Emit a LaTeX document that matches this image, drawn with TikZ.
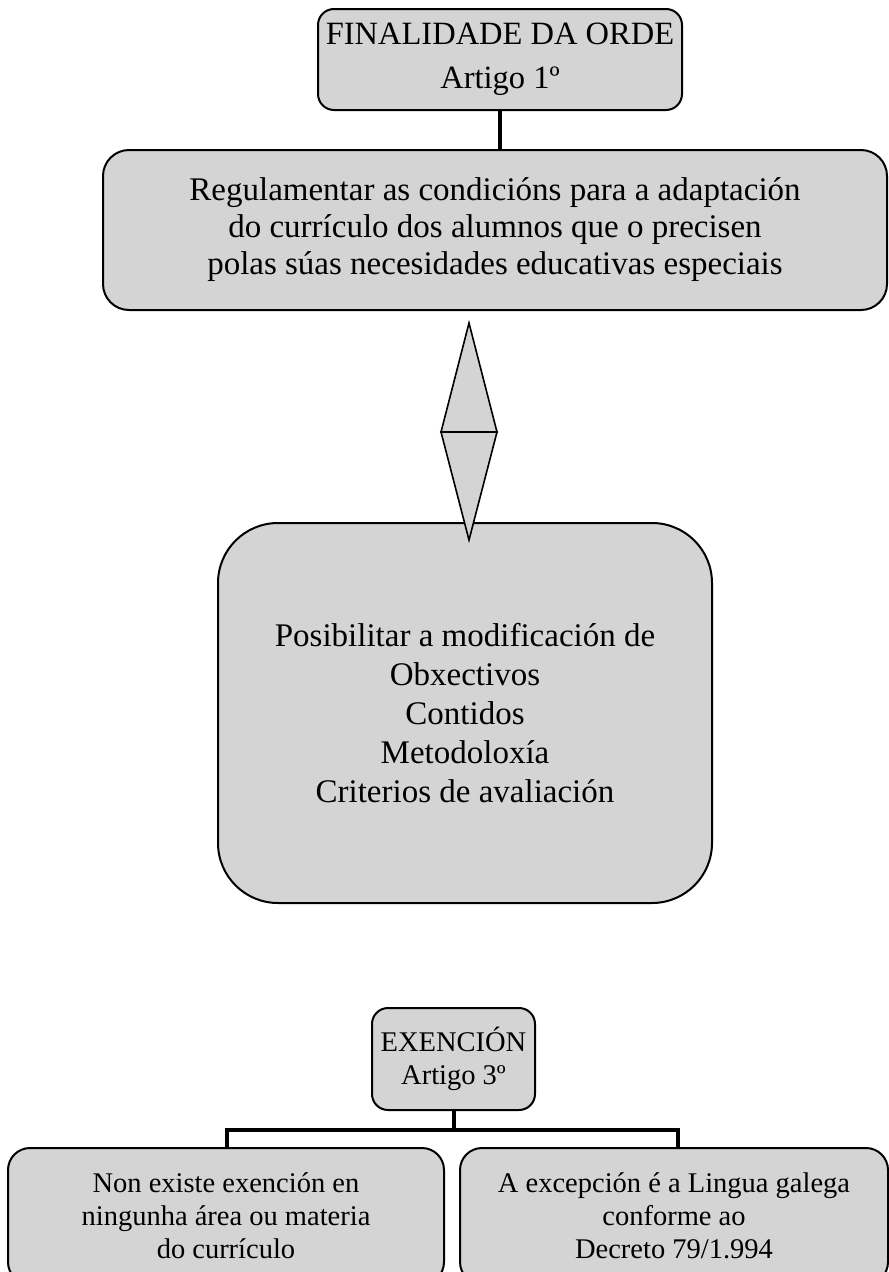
\documentclass[tikz,border=0pt]{standalone}
\usepackage{fontspec}
\setmainfont{Liberation Serif}
\usetikzlibrary{positioning}
\definecolor{boxgray}{RGB}{212,212,212}
\tikzstyle{box} = [draw, rectangle, fill=boxgray, line width=2pt, align=center, inner sep=0pt]
\tikzstyle{link} = [line width=4pt]
\tikzstyle{arrowhalf} = [fill=boxgray, draw, line width=1.6pt, line join=miter]
\newcommand{\bigtext}{\fontsize{33}{37}\selectfont}
\newcommand{\smalltext}{\fontsize{28.5}{33}\selectfont}

\begin{document}
\begin{tikzpicture}[node distance=100pt]

\useasboundingbox (0,0) rectangle (889pt,-1272pt);

\node [box, rounded corners=16pt, minimum width=364pt, minimum height=101pt, font=\fontsize{32.5}{44}\selectfont] (finalidade) at (500pt,-59.5pt) {FINALIDADE DA ORDE\\Artigo 1º};
\node [box, rounded corners=26pt, minimum width=784pt, minimum height=160pt, font=\bigtext, below of=finalidade, node distance=170.5pt, xshift=-5pt] (regulamentar) {Regulamentar as condicións para a adaptación\\do currículo dos alumnos que o precisen\\polas súas necesidades educativas especiais};
\draw [link] ([xshift=5pt]regulamentar.north) -- (finalidade.south);

\node [box, rounded corners=60pt, minimum width=494pt, minimum height=380pt, font=\fontsize{33}{39}\selectfont, below of=regulamentar, node distance=483pt, xshift=-30pt] (posibilitar) {Posibilitar a modificación de\\Obxectivos\\Contidos\\Metodoloxía\\Criterios de avaliación};

% double arrow between the two boxes
\coordinate (tipup) at (469pt,-323pt);
\coordinate (wingl) at (441pt,-432pt);
\coordinate (wingr) at (497pt,-432pt);
\coordinate (tipdown) at (469pt,-540pt);
\filldraw [arrowhalf] (tipup) -- (wingl) -- (wingr) -- cycle;
\filldraw [arrowhalf] (wingl) -- (tipdown) -- (wingr) -- cycle;

\node [box, rounded corners=16pt, minimum width=163pt, minimum height=102pt, font=\fontsize{28.5}{33}\selectfont, below of=posibilitar, node distance=346pt, xshift=-11.5pt] (exencion) {EXENCIÓN\\Artigo 3º};

\node [box, rounded corners=22pt, minimum width=436pt, minimum height=136pt, font=\smalltext] (nonexiste) at (226pt,-1216pt) {Non existe exención en\\ningunha área ou materia\\do currículo};
\node [box, rounded corners=22pt, minimum width=428pt, minimum height=136pt, font=\smalltext] (excepcion) at (674pt,-1216pt) {A excepción é a Lingua galega\\conforme ao\\Decreto 79/1.994};

\coordinate [below of=exencion, node distance=71pt] (bus);
\draw [link] (exencion.south) -- (bus);
\draw [link] ([xshift=1pt]nonexiste.north) |- (bus) -| ([xshift=4pt]excepcion.north);
\end{tikzpicture}
\end{document}
